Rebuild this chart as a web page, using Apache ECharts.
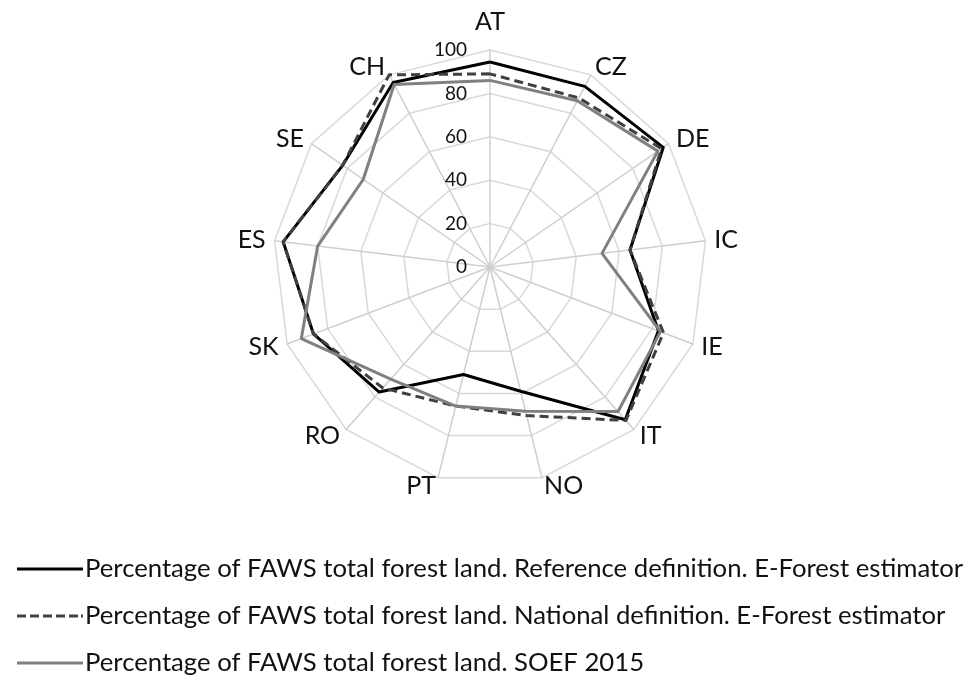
<!DOCTYPE html>
<html>
<head>
<meta charset="utf-8">
<script src="https://cdn.jsdelivr.net/npm/echarts@6/dist/echarts.min.js"></script>
<style>
html,body{margin:0;padding:0;background:#fff;}
#chart{width:971px;height:680px;}
</style>
</head>
<body>
<div id="chart"></div>
<script>
// Categories, clockwise from the top
const categories = ['AT','CZ','DE','IC','IE','IT','NO','PT','RO','SK','ES','SE','CH'];
// Series values (% of FAWS total forest land)
const refDefinition = [94.5, 94, 97, 65, 83, 94, 59, 51, 77, 87, 96, 82.5, 96];
const natDefinition = [89, 88, 96, 65, 85.5, 94.5, 70.5, 66, 74.5, 87, 96, 82.5, 100];
const soef2015 = [86, 86.5, 94, 52, 84, 89, 68.5, 66, 69, 93, 80, 71, 95];
const seriesNames = [
  'Percentage of FAWS total forest land. Reference definition. E-Forest estimator',
  'Percentage of FAWS total forest land. National definition. E-Forest estimator',
  'Percentage of FAWS total forest land. SOEF 2015'
];
const axisMin = 0, axisMax = 100, axisSplits = 5;

// ECharts radar goes counter-clockwise; reorder so the picture runs clockwise
const reorder = arr => [arr[0]].concat(arr.slice(1).reverse());

const FONT = 'Lato';
const indicators = reorder(categories).map((name, i) => {
  const o = {name: name, min: axisMin, max: axisMax};
  if (i === 0) { o.axisLabel = {show: true}; o.nameGap = 16; }
  return o;
});

// legend icons: a solid bar and a dashed bar (66 x 3 box)
const solidIcon = 'path://M0,0H66V3H0Z';
const dashedIcon = 'path://M0,0H9V3H0Z M13,0H22V3H13Z M26,0H35V3H26Z M39,0H48V3H39Z M52,0H61V3H52Z M64,0H66V3H64Z';

const chart = echarts.init(document.getElementById('chart'), null, {renderer: 'canvas'});
chart.setOption({
  animation: false,
  backgroundColor: '#ffffff',
  legend: {
    orient: 'vertical',
    left: 12,
    top: 549,
    height: 130,
    itemWidth: 66,
    itemHeight: 3,
    itemGap: 17,
    textStyle: {fontFamily: FONT, fontSize: 25.7, color: '#111', lineHeight: 30, padding: [0, 0, 0, -3]},
    data: [
      {name: seriesNames[0], icon: solidIcon},
      {name: seriesNames[1], icon: dashedIcon},
      {name: seriesNames[2], icon: solidIcon}
    ]
  },
  radar: {
    center: [490, 267],
    radius: 217,
    startAngle: 90,
    splitNumber: axisSplits,
    shape: 'polygon',
    nameGap: 9,
    axisName: {color: '#111', fontFamily: FONT, fontSize: 25},
    axisLine: {lineStyle: {color: '#cfcfcf', width: 1.5}},
    splitLine: {lineStyle: {color: '#d9d9d9', width: 1.5}},
    splitArea: {show: false},
    axisTick: {show: false},
    axisLabel: {show: false, color: '#111', fontFamily: FONT, fontSize: 19, margin: 23},
    indicator: indicators
  },
  series: [{
    type: 'radar',
    symbol: 'none',
    data: [
      {name: seriesNames[0], value: reorder(refDefinition),
       lineStyle: {color: '#000000', width: 3}, itemStyle: {color: '#000000'}},
      {name: seriesNames[1], value: reorder(natDefinition),
       lineStyle: {color: '#404040', width: 3, type: [9, 5]}, itemStyle: {color: '#404040'}},
      {name: seriesNames[2], value: reorder(soef2015),
       lineStyle: {color: '#808080', width: 3}, itemStyle: {color: '#808080'}}
    ]
  }]
});
</script>
</body>
</html>
